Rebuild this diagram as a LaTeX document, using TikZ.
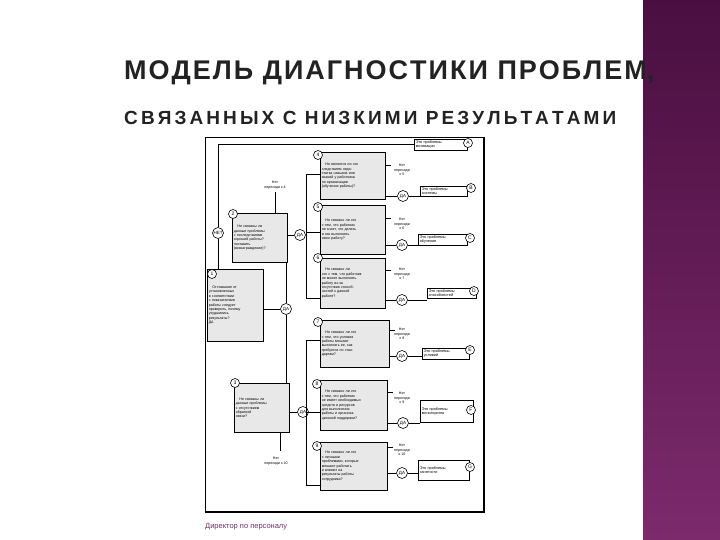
\documentclass[tikz,border=0pt]{standalone}
\usepackage{fontspec}
\setmainfont{Liberation Sans}
\usetikzlibrary{calc}
\definecolor{pt}{HTML}{222222}
\definecolor{bx}{HTML}{E8E8E8}
\begin{document}
\begin{tikzpicture}[x=1pt,y=-1pt,
  box/.style={draw,line width=0.6pt,fill=bx,text width=#1,align=left,inner sep=1.5pt,font=\fontsize{3.6}{4.4}\selectfont,anchor=north west},
  res/.style={draw,line width=0.6pt,fill=white,text width=#1,align=left,inner sep=1.5pt,font=\fontsize{3.8}{4.4}\selectfont,anchor=north west},
  num/.style={circle,draw,fill=white,line width=0.6pt,inner sep=0.3pt,minimum size=9pt,font=\fontsize{5}{5}\selectfont},
  da/.style={circle,draw,fill=white,line width=0.6pt,inner sep=0.3pt,minimum size=11pt,font=\fontsize{4.5}{5}\selectfont},
  nt/.style={font=\fontsize{3.6}{4.6}\selectfont,align=center},
  ln/.style={line width=0.7pt}]
\useasboundingbox (0,0) rectangle (720,540);
\fill[white] (0,0) rectangle (720,540);
\shade[top color={rgb,255:red,74;green,15;blue,64},bottom color={rgb,255:red,124;green,42;blue,108}] (643,0) rectangle (720,540);
\node[anchor=west,font=\fontsize{27}{27}\selectfont\bfseries\def\,{\kern2pt},text=pt,inner sep=0] (t1) at (124,73) {М\,О\,Д\,Е\,Л\,Ь\,\ Д\,И\,А\,Г\,Н\,О\,С\,Т\,И\,К\,И\,\ П\,Р\,О\,Б\,Л\,Е\,М,};
\node[anchor=west,font=\fontsize{19}{19}\selectfont\bfseries\def\,{\kern3.1pt},text=pt,inner sep=0] (t2) at (124,118) {С\,В\,Я\,З\,А\,Н\,Н\,Ы\,Х\,\ С\,\ Н\,И\,З\,К\,И\,М\,И\,\ Р\,Е\,З\,У\,Л\,Ь\,Т\,А\,Т\,А\,М\,И};
% frame
\draw[line width=0.8pt] (205,137) rectangle (483,511);
\draw[line width=2.2pt] (484,137) -- (484,512) -- (205,512);
\node[anchor=west,font=\fontsize{7.5}{8}\selectfont,text={rgb,255:red,110;green,50;blue,100},inner sep=0] (cap) at (205,527) {Директор по персоналу};
% main boxes
\node[box=53pt,minimum height=72pt] (b1) at (207,269) {\quad Отставание от\\ установленных\\ в соответствии\\ с показателями\\ работы следует\\ проверить, почему\\ ухудшились\\ результаты?\\ ДА};
\node[box=52pt,minimum height=49pt] (b2) at (232,213) {\quad Не связаны ли\\ данные проблемы\\ с последствиями\\ хорошей работы?\\ поставить\\ (вознаграждение)?};
\node[box=52pt,minimum height=49pt] (b3) at (234,383) {\quad Не связаны ли\\ данные проблемы\\ с отсутствием\\ обратной\\ связи?};
\node[box=62pt,minimum height=47pt] (b4) at (320,152) {\quad Не является ли это\\ следствием недо-\\ статка навыков или\\ знаний у работника\\ по организации\\ (обучения работы)?};
\node[box=62pt,minimum height=49pt] (b5) at (320,205) {\quad Не связано ли это\\ с тем, что работник\\ не знает, что делать\\ и как выполнять\\ свою работу?};
\node[box=62pt,minimum height=50pt] (b6) at (320,258) {\quad Не связано ли\\ это с тем, что работник\\ не может выполнять\\ работу из-за\\ отсутствия способ-\\ ностей к данной\\ работе?};
\node[box=66pt,minimum height=47pt] (b7) at (320,320) {\quad Не связано ли это\\ с тем, что условия\\ работы мешают\\ выполнять ее, как\\ требуется по стан-\\ дартам?};
\node[box=64pt,minimum height=50pt] (b8) at (320,380) {\quad Не связано ли это\\ с тем, что работник\\ не имеет необходимых\\ средств и ресурсов\\ для выполнения\\ работы и организа-\\ ционной поддержки?};
\node[box=64pt,minimum height=48pt] (b9) at (320,442) {\quad Не связано ли это\\ с личными\\ проблемами, которые\\ мешают работать\\ и влияют на\\ результаты работы\\ сотрудника?};
% numbers
\node[num] (n1) at (212,274) {1};
\node[num] (n2) at (233,214) {2};
\node[num] (n3) at (235,383) {3};
\node[num] (n4) at (318,155) {4};
\node[num] (n5) at (318,207) {5};
\node[num] (n6) at (318,258) {6};
\node[num] (n7) at (318,322) {7};
\node[num] (n8) at (317,384) {8};
\node[num] (n9) at (317,446) {9};
% result boxes
\node[res=50pt] (rA) at (414,139) {Это проблемы\\ мотивации};
\node[res=44pt] (rB) at (420,186) {Это проблемы\\ системы};
\node[res=46pt] (rC) at (418,234) {Это проблемы\\ обучения};
\node[res=46pt] (rD) at (427,288) {Это проблемы\\ способностей};
\node[res=44pt] (rE) at (422,348) {Это проблемы\\ условий};
\node[res=50pt,minimum height=22pt] (rF) at (420,400) {Это проблемы\\ мониторинга};
\node[res=48pt,minimum height=20pt] (rG) at (418,460) {Это проблемы\\ занятости};
\node[num] (cA) at (468,143) {A};
\node[num] (cB) at (471,188) {B};
\node[num] (cC) at (470,238) {C};
\node[num] (cD) at (474,291) {D};
\node[num] (cE) at (470,350) {E};
\node[num] (cF) at (471,410) {F};
\node[num] (cG) at (470,467) {G};
% yes / no circles
\node[da] (net) at (218,233) {НЕТ};
\node[da] (d2) at (300,235) {ДА};
\node[da] (d1) at (286,309) {ДА};
\node[da] (d3) at (303,412) {ДА};
\node[da] (d4) at (403,196) {ДА};
\node[da] (d5) at (402,245) {ДА};
\node[da] (d6) at (402,300) {ДА};
\node[da] (d7) at (402,356) {ДА};
\node[da] (d8) at (403,423) {ДА};
\node[da] (d9) at (402,473) {ДА};
% no texts
\node[nt] (x2) at (275,185) {Нет\\ переходи к 4};
\node[nt] (x3) at (276,461) {Нет\\ переходи к 10};
\node[nt] (x4) at (402,170) {Нет\\ переходи\\ к 5};
\node[nt] (x5) at (402,224) {Нет\\ переходи\\ к 6};
\node[nt] (x6) at (402,274) {Нет\\ переходи\\ к 7};
\node[nt] (x7) at (402,334) {Нет\\ переходи\\ к 8};
\node[nt] (x8) at (402,398) {Нет\\ переходи\\ к 9};
\node[nt] (x9) at (402,450) {Нет\\ переходи\\ к 10};
\coordinate (x3top) at (280,451);
% connectors
\draw[ln] (b1.north -| net) -- (net) -- (net |- rA.west) -- (rA.west);
\draw[ln] (x2.south) -- (x2.south |- b2.north);
\draw[ln] (b2.east |- d2) -- (d2);
\draw[ln] (d2) -- (306,235);
\draw[ln] (b4.west |- 0,174) -- (306,174) -- (306,298) -- (b6.west |- 0,298);
\draw[ln] (306,232) -- (b5.west |- 0,232);
\draw[ln] (b1.east |- d1) -- (d1);
\draw[ln] (d1 |- b2.south) -- (d1) -- (d1 |- b3.north);
\draw[ln] (b3.east |- d3) -- (d3);
\draw[ln] (d3) -- (306,412);
\draw[ln] (b7.west |- 0,340) -- (306,340) -- (306,485) -- (b9.west |- 0,485);
\draw[ln] (306,412) -- (b8.west |- 0,412);
\draw[ln] (x3top |- b3.south) -- (x3top);
\foreach \b/\d/\r/\y in {b4/d4/rB/165,b5/d5/rC/218,b6/d6/rD/270,b7/d7/rE/330,b8/d8/rF/392,b9/d9/rG/447}{
  \draw[ln] (\b.east |- 0,\y) -- ++(5,0);
  \draw[ln] (\b.east |- \d) -- (\d) -- (\r.west |- \d);
}
\end{tikzpicture}
\end{document}
